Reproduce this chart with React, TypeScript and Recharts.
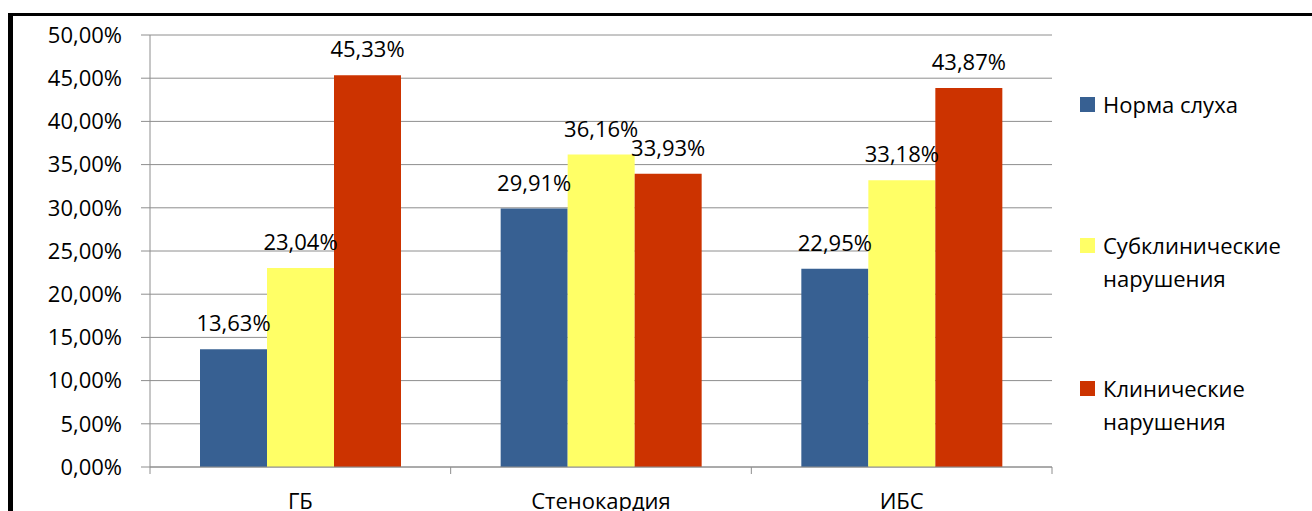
import React from "react";
import { BarChart, Bar, XAxis, YAxis, CartesianGrid, LabelList, Legend } from "recharts";

const categories = ["ГБ", "Стенокардия", "ИБС"];
const normal = [13.63, 29.91, 22.95];
const subclinical = [23.04, 36.16, 33.18];
const clinical = [45.33, 33.93, 43.87];
const seriesNames = ["Норма слуха", "Субклинические нарушения", "Клинические нарушения"];
const yTicks = [0, 5, 10, 15, 20, 25, 30, 35, 40, 45, 50];

const data = categories.map((name, i) => ({
  name,
  normal: normal[i],
  subclinical: subclinical[i],
  clinical: clinical[i],
}));

const FONT = "'Open Sans', 'Noto Sans', sans-serif";
const GRID = "#8e8e8e";
const TICK_SIZE = 7;
const TICK_MARGIN = 19;
const fmt = (v: any) => Number(v).toFixed(2).replace(".", ",") + "%";

const CatTick = (props: any) => {
  const { x, y, payload, index, visibleTicksCount } = props;
  const half = payload.offset || 0;
  const y1 = y - TICK_SIZE - TICK_MARGIN;
  const y2 = y - TICK_MARGIN;
  return (
    <g>
      <line x1={x - half} x2={x - half} y1={y1} y2={y2} stroke={GRID} />
      {index === visibleTicksCount - 1 && (
        <line x1={x + half} x2={x + half} y1={y1} y2={y2} stroke={GRID} />
      )}
      <text x={x} y={y} dy="0.72em" textAnchor="middle" fontSize={22} fill="#000" fontFamily={FONT}>
        {payload.value}
      </text>
    </g>
  );
};

const legendTops = [88, 229, 372];

const LegendBox = (props: any) => {
  // keep the series order, not the alphabetical one
  const items = [...(props.payload || [])].sort(
    (a: any, b: any) => seriesNames.indexOf(a.value) - seriesNames.indexOf(b.value)
  );
  return (
    <div style={{ position: "relative", fontFamily: FONT, fontSize: 22, color: "#000" }}>
      {items.map((p: any, i: number) => (
        <div
          key={i}
          style={{ position: "absolute", left: 0, top: legendTops[i], display: "flex", alignItems: "flex-start", width: 215 }}
        >
          <span style={{ width: 15, height: 15, background: p.color, marginTop: 9, marginRight: 8, flex: "none" }} />
          <span style={{ lineHeight: "33px" }}>{p.value}</span>
        </div>
      ))}
    </div>
  );
};

export default function App() {
  return (
    <div style={{ position: "fixed", left: 0, top: 0, width: 1312, height: 511, overflow: "hidden", background: "#fff" }}>
      <div
        style={{
          position: "absolute",
          left: 8,
          top: 13,
          width: 1400,
          height: 600,
          borderLeft: "5px solid #000",
          borderTop: "3px solid #000",
        }}
      />
      <div style={{ position: "absolute", left: 0, top: 0 }}>
        <BarChart
          width={1312}
          height={511}
          data={data}
          margin={{ top: 35, right: 260, left: 0, bottom: 0 }}
          barCategoryGap="16.63%"
          barGap={0}
          style={{ fontFamily: FONT }}
        >
          <CartesianGrid vertical={false} stroke={GRID} />
          <XAxis
            dataKey="name"
            height={44}
            stroke={GRID}
            tickLine={false}
            tickSize={TICK_SIZE}
            tickMargin={TICK_MARGIN}
            tick={<CatTick />}
            interval={0}
          />
          <YAxis
            width={150}
            domain={[0, 50]}
            ticks={yTicks}
            tickFormatter={fmt}
            stroke={GRID}
            tickSize={9}
            tickMargin={19}
            tick={{ fontSize: 22, fill: "#000", fontFamily: FONT }}
            interval={0}
          />
          <Legend
            layout="vertical"
            align="center"
            verticalAlign="middle"
            wrapperStyle={{ left: 1080, top: 0, width: 230, height: 500 }}
            content={<LegendBox />}
          />
          <Bar dataKey="normal" name={seriesNames[0]} fill="#376092" isAnimationActive={false}>
            <LabelList dataKey="normal" position="top" offset={18} formatter={fmt} fill="#000" fontSize={22} fontFamily={FONT} />
          </Bar>
          <Bar dataKey="subclinical" name={seriesNames[1]} fill="#FFFF66" isAnimationActive={false}>
            <LabelList dataKey="subclinical" position="top" offset={18} formatter={fmt} fill="#000" fontSize={22} fontFamily={FONT} />
          </Bar>
          <Bar dataKey="clinical" name={seriesNames[2]} fill="#CC3300" isAnimationActive={false}>
            <LabelList dataKey="clinical" position="top" offset={18} formatter={fmt} fill="#000" fontSize={22} fontFamily={FONT} />
          </Bar>
        </BarChart>
      </div>
    </div>
  );
}
